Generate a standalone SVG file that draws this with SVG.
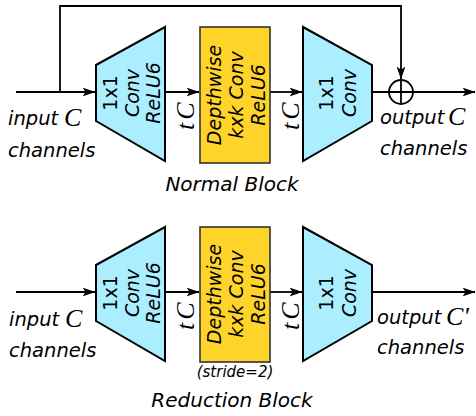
<svg xmlns="http://www.w3.org/2000/svg" width="476" height="416" viewBox="0 0 476 416">
<defs>
<marker id="arr" markerUnits="userSpaceOnUse" markerWidth="13" markerHeight="10" viewBox="0 0 13 10" refX="12.5" refY="5" orient="auto">
<path d="M0,0.6 L13,5 L0,9.4 L3.2,5 Z" fill="#000"/>
</marker>
</defs>
<style>
.trap{fill:#aaeeff;stroke:#000;stroke-width:2;stroke-linejoin:miter}
.dw{fill:#ffd42a;stroke:#333;stroke-width:1.6}
.ln{fill:none;stroke:#000;stroke-width:1.8}
.t{font-family:"DejaVu Sans",sans-serif;font-style:italic;font-size:19.5px;fill:#000}
.tm{font-family:"DejaVu Sans",sans-serif;font-style:italic;font-size:19px;fill:#000;text-anchor:middle}
.up{font-style:normal}
.math{font-family:"Liberation Serif",serif;font-style:italic;font-size:26px;fill:#000}
.title{font-family:"DejaVu Sans",sans-serif;font-style:italic;font-size:20px;fill:#000;text-anchor:middle}
.small{font-family:"DejaVu Sans",sans-serif;font-style:italic;font-size:15px;fill:#000;text-anchor:middle}
</style>

<g id="connectors">
<line class="ln" x1="16" y1="92" x2="95" y2="92" marker-end="url(#arr)"/>
<polyline class="ln" points="60,92 60,6 401,6 401,79" marker-end="url(#arr)"/>
<line class="ln" x1="165" y1="92" x2="199" y2="92" marker-end="url(#arr)"/>
<line class="ln" x1="270" y1="92" x2="302" y2="92" marker-end="url(#arr)"/>
<line class="ln" x1="372" y1="92" x2="475" y2="92" marker-end="url(#arr)"/>
<line class="ln" x1="16" y1="292" x2="95" y2="292" marker-end="url(#arr)"/>
<line class="ln" x1="165" y1="292" x2="199" y2="292" marker-end="url(#arr)"/>
<line class="ln" x1="270" y1="292" x2="302" y2="292" marker-end="url(#arr)"/>
<line class="ln" x1="372" y1="292" x2="475" y2="292" marker-end="url(#arr)"/>
</g>

<!-- Normal block -->
<g id="normal-expand">
<polygon class="trap" points="96,65 165,27 165,161 96,121"/>
<text class="tm up" transform="translate(117,93) rotate(-90)">1x1</text>
<text class="tm" transform="translate(139,93) rotate(-90)">Conv</text>
<text class="tm" transform="translate(160,93) rotate(-90)">ReLU6</text>
</g>
<g id="normal-depthwise">
<rect class="dw" x="200" y="27" width="70" height="136"/>
<text class="tm" transform="translate(221,95) rotate(-90)">Depthwise</text>
<text class="tm" transform="translate(243,95) rotate(-90)">kxk Conv</text>
<text class="tm" transform="translate(265,95) rotate(-90)">ReLU6</text>
</g>
<g id="normal-project">
<polygon class="trap" points="303,27 372,65 372,121 303,161"/>
<text class="tm up" transform="translate(333,93) rotate(-90)">1x1</text>
<text class="tm" transform="translate(356,93) rotate(-90)">Conv</text>
</g>
<g id="normal-add">
<circle cx="401" cy="92" r="12" fill="none" stroke="#000" stroke-width="1.8"/>
<line class="ln" x1="401" y1="80" x2="401" y2="104"/>
</g>
<g id="normal-labels">
<text class="t" x="8" y="125">input</text>
<text class="math" x="64" y="126">C</text>
<text class="t" x="380" y="124">output</text>
<text class="math" x="448" y="125">C</text>
<text class="t" x="8" y="157">channels</text>
<text class="t" x="380" y="155">channels</text>
<text class="math" transform="translate(194,130) rotate(-90)">t<tspan dx="3">C</tspan></text>
<text class="math" transform="translate(299,130) rotate(-90)">t<tspan dx="3">C</tspan></text>
<text class="title" x="232" y="191">Normal Block</text>
</g>

<!-- Reduction block -->
<g id="reduction-expand">
<polygon class="trap" points="96,265 165,227 165,361 96,321"/>
<text class="tm up" transform="translate(117,293) rotate(-90)">1x1</text>
<text class="tm" transform="translate(139,293) rotate(-90)">Conv</text>
<text class="tm" transform="translate(160,293) rotate(-90)">ReLU6</text>
</g>
<g id="reduction-depthwise">
<rect class="dw" x="200" y="227" width="70" height="135"/>
<text class="tm" transform="translate(221,294) rotate(-90)">Depthwise</text>
<text class="tm" transform="translate(243,294) rotate(-90)">kxk Conv</text>
<text class="tm" transform="translate(265,294) rotate(-90)">ReLU6</text>
<text class="small" x="235" y="377">(stride=2)</text>
</g>
<g id="reduction-project">
<polygon class="trap" points="303,227 372,265 372,321 303,361"/>
<text class="tm up" transform="translate(333,293) rotate(-90)">1x1</text>
<text class="tm" transform="translate(356,293) rotate(-90)">Conv</text>
</g>
<g id="reduction-labels">
<text class="t" x="9" y="326">input</text>
<text class="math" x="65" y="327">C</text>
<text class="t" x="9" y="357">channels</text>
<text class="t" x="377" y="324">output</text>
<text class="math" x="446" y="325">C'</text>
<text class="t" x="377" y="354">channels</text>
<text class="math" transform="translate(194,330) rotate(-90)">t<tspan dx="3">C</tspan></text>
<text class="math" transform="translate(299,330) rotate(-90)">t<tspan dx="3">C</tspan></text>
<text class="title" x="232" y="407">Reduction Block</text>
</g>
</svg>
